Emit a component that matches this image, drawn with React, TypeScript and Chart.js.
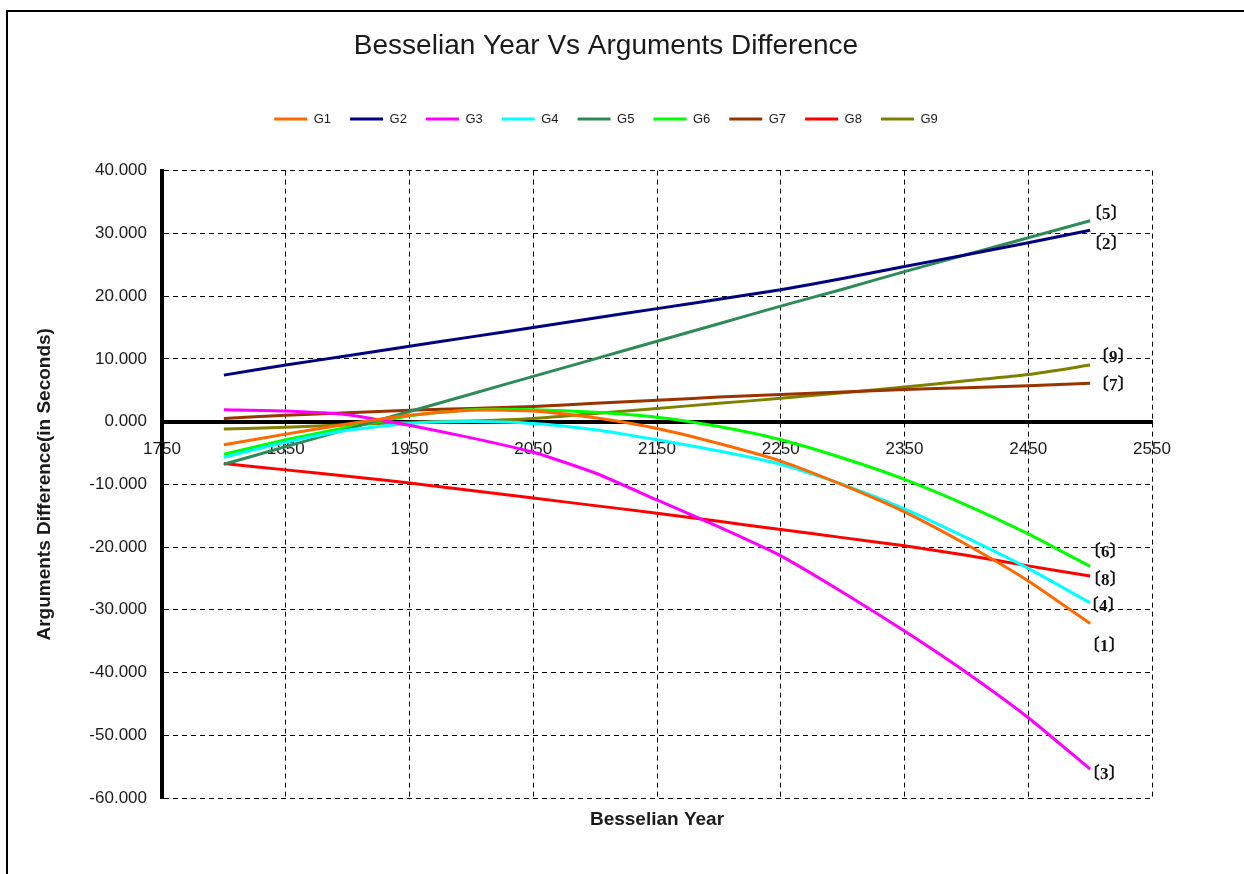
import React, { useEffect, useRef } from "react";
import { Chart, registerables } from "chart.js";

Chart.register(...registerables);

// ---- data ----
const years = [1800, 1850, 1900, 1950, 2000, 2050, 2100, 2150, 2200, 2250, 2300, 2350, 2400, 2450, 2500];

const G1 = [-3.7, -2.0, -0.4, 1.0, 1.8, 1.7, 0.6, -1.1, -3.5, -6.3, -10.1, -14.4, -19.6, -25.4, -32.2];
const G2 = [7.4, 9.0, 10.5, 12.0, 13.5, 15.0, 16.5, 18.0, 19.5, 21.0, 22.8, 24.7, 26.6, 28.5, 30.5];
const G3 = [1.9, 1.7, 1.1, -0.6, -2.6, -4.9, -8.2, -12.5, -16.8, -21.4, -27.2, -33.4, -40.0, -47.2, -55.4];
const G4 = [-5.7, -3.3, -1.4, -0.3, 0.0, -0.3, -1.3, -2.9, -4.7, -6.8, -10.0, -13.9, -18.5, -23.4, -28.9];
const G5 = [-6.8, -4.0, -1.2, 1.6, 4.4, 7.2, 10.0, 12.8, 15.6, 18.4, 21.1, 23.9, 26.6, 29.3, 32.0];
const G6 = [-5.2, -2.9, -0.9, 0.9, 1.9, 1.9, 1.5, 0.7, -0.8, -2.9, -5.8, -9.2, -13.3, -17.9, -23.1];
const G7 = [0.5, 1.0, 1.4, 1.8, 2.1, 2.4, 2.9, 3.4, 3.9, 4.3, 4.7, 5.1, 5.4, 5.7, 6.1];
const G8 = [-6.7, -7.7, -8.7, -9.8, -11.0, -12.2, -13.4, -14.6, -15.9, -17.2, -18.5, -19.8, -21.3, -23.0, -24.6];
const G9 = [-1.2, -0.9, -0.5, -0.1, 0.1, 0.5, 1.3, 2.1, 2.9, 3.7, 4.6, 5.5, 6.5, 7.5, 9.0];

const seriesValues = [G1, G2, G3, G4, G5, G6, G7, G8, G9];
const seriesNames = ["G1", "G2", "G3", "G4", "G5", "G6", "G7", "G8", "G9"];
const endLabels = ["〔1〕", "〔2〕", "〔3〕", "〔4〕", "〔5〕", "〔6〕", "〔7〕", "〔8〕", "〔9〕"];

const xMin = 1750;
const xMax = 2550;
const xStep = 100;
const yMin = -60;
const yMax = 40;
const yStep = 10;

const titleText = "Besselian Year Vs Arguments Difference";
const xTitle = "Besselian Year";
const yTitle = "Arguments Difference(in Seconds)";

// ---- styles ----
const seriesColors = ["#FF6A00", "#000080", "#FF00FF", "#00FFFF", "#2E8B57", "#00FF00", "#993300", "#FF0000", "#808000"];
const endLabelOffsets = [
  [14, 23],
  [16, 14],
  [14, 5],
  [13, 4],
  [16, -6],
  [15, -14],
  [23, 2],
  [15, 5],
  [23, -7],
];

const FONT = '"Liberation Sans", Arial, sans-serif';
const TEXT = "#1a1a1a";

const legendSpacer = {
  id: "legendSpacer",
  beforeInit(chart: any) {
    const legend = chart.legend;
    if (!legend) return;
    const orig = legend.fit;
    legend.fit = function () {
      orig.call(this);
      this.height += 35;
    };
  },
};

const annotations = {
  id: "annotations",
  afterDatasetsDraw(chart: any) {
    const ctx = chart.ctx;
    ctx.save();
    ctx.font = 'bold 17px "Liberation Serif", "Noto Sans CJK JP", serif';
    ctx.fillStyle = "#111";
    ctx.textAlign = "center";
    ctx.textBaseline = "middle";
    chart.data.datasets.forEach((ds: any, i: number) => {
      const meta = chart.getDatasetMeta(i);
      const pt = meta.data[meta.data.length - 1];
      if (!pt) return;
      const [dx, dy] = endLabelOffsets[i];
      ctx.fillText(endLabels[i], pt.x + dx, pt.y + dy);
    });
    ctx.restore();
  },
  afterDraw(chart: any) {
    const ctx = chart.ctx;
    const area = chart.chartArea;
    ctx.save();
    ctx.fillStyle = TEXT;
    ctx.font = `bold 19px ${FONT}`;
    ctx.textAlign = "center";
    ctx.textBaseline = "middle";
    ctx.fillText(xTitle, (area.left + area.right) / 2, area.bottom + 22);
    ctx.translate(45, (area.top + area.bottom) / 2);
    ctx.rotate(-Math.PI / 2);
    ctx.fillText(yTitle, 0, 0);
    ctx.restore();
  },
};

export default function App() {
  const ref = useRef<HTMLCanvasElement>(null);

  useEffect(() => {
    const canvas = ref.current;
    if (!canvas) return;
    const datasets = seriesValues.map((vals, i) => ({
      label: seriesNames[i],
      data: years.map((yr, j) => ({ x: yr, y: vals[j] })),
      borderColor: seriesColors[i],
      backgroundColor: seriesColors[i],
      borderWidth: 3,
      pointRadius: 0,
      tension: 0.2,
      fill: false,
    }));

    const chart = new Chart(canvas, {
      type: "line",
      data: { datasets },
      options: {
        responsive: false,
        animation: false,
        devicePixelRatio: 1,
        layout: { padding: { left: 60, right: 60, top: 0, bottom: 76 } },
        plugins: {
          tooltip: { enabled: false },
          title: {
            display: true,
            text: titleText,
            color: TEXT,
            font: { family: FONT, size: 28, weight: "normal" },
            padding: { top: 29, bottom: 31 },
          },
          legend: {
            display: true,
            position: "top",
            labels: {
              usePointStyle: true,
              pointStyle: "line",
              pointStyleWidth: 33,
              color: TEXT,
              font: { family: FONT, size: 13 },
              padding: 19,
            },
          },
        },
        scales: {
          x: {
            type: "linear",
            min: xMin,
            max: xMax,
            position: { y: 0 },
            afterFit(scale: any) {
              scale.height = 0;
            },
            ticks: {
              stepSize: xStep,
              color: TEXT,
              font: { family: FONT, size: 17 },
              padding: 18,
              maxRotation: 0,
              callback: (v: any) => String(v),
            },
            grid: {
              drawTicks: false,
              color: (c: any) => (c.tick && c.tick.value === xMin ? "rgba(0,0,0,0)" : "#000"),
              lineWidth: 1,
            },
            border: { display: true, color: "#000", width: 4, dash: [5, 4] },
          },
          y: {
            type: "linear",
            min: yMin,
            max: yMax,
            afterFit(scale: any) {
              scale.width = 102;
            },
            ticks: {
              stepSize: yStep,
              color: TEXT,
              font: { family: FONT, size: 17 },
              padding: 15,
              callback: (v: any) => Number(v).toFixed(3),
            },
            grid: {
              drawTicks: false,
              color: (c: any) => (c.tick && c.tick.value === 0 ? "rgba(0,0,0,0)" : "#000"),
              lineWidth: 1,
            },
            border: { display: true, color: "#000", width: 4, dash: [5, 4] },
          },
        },
      },
      plugins: [legendSpacer, annotations],
    } as any);

    return () => chart.destroy();
  }, []);

  return (
    <div style={{ position: "absolute", left: 0, top: 0, width: 1244, height: 874, background: "#fff", overflow: "hidden" }}>
      <div
        style={{
          position: "absolute",
          left: 6,
          top: 10,
          width: 1300,
          height: 900,
          borderTop: "2px solid #000",
          borderLeft: "2px solid #000",
        }}
      />
      <canvas ref={ref} width={1212} height={874} style={{ position: "absolute", left: 0, top: 0, width: 1212, height: 874 }} />
    </div>
  );
}
